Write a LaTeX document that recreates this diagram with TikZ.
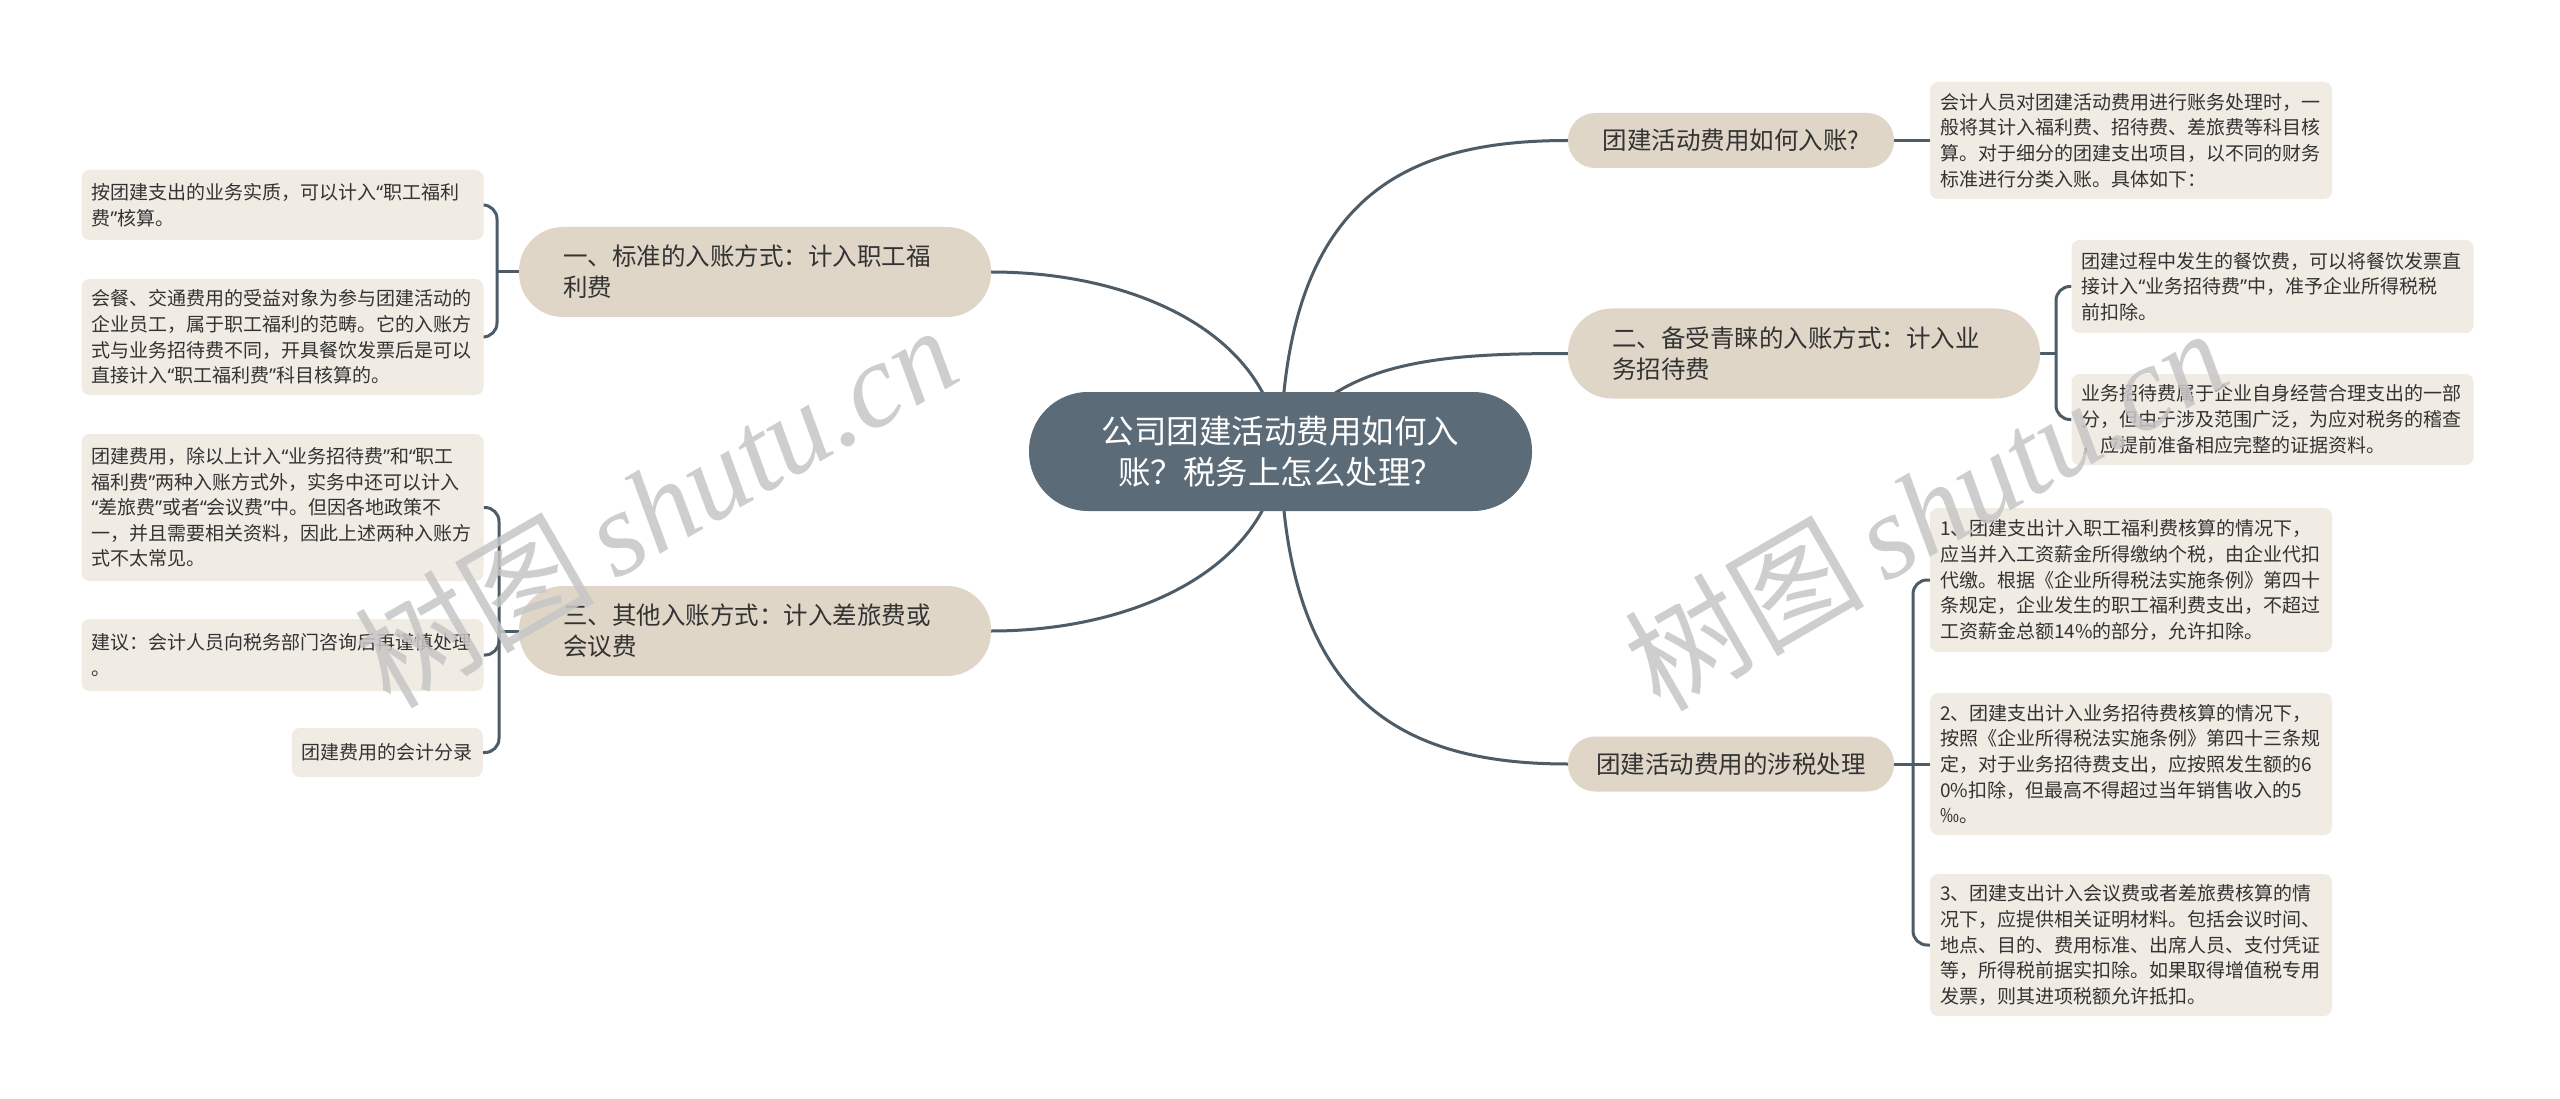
\documentclass[tikz,border=0pt]{standalone}
\usepackage{fontspec}
\setmainfont{Noto Sans CJK SC}
\newfontfamily\wmlatin{Liberation Serif}
\newfontfamily\qtfont{Noto Sans}
\newcommand\oq{{\qtfont “}}
\newcommand\cq{{\qtfont ”}}
\usetikzlibrary{backgrounds}
\definecolor{cfill}{HTML}{5B6B77}
\definecolor{bfill}{HTML}{E0D6C7}
\definecolor{lfill}{HTML}{F0ECE4}
\definecolor{lcol}{HTML}{4D5C67}
\definecolor{tcol}{HTML}{333333}
\definecolor{wmcol}{HTML}{C6C6C6}
\tikzset{
  central/.style={fill=cfill, rounded corners=59pt, minimum width=503pt, minimum height=119pt,
    text=white, font=\fontsize{32.5}{41}\selectfont, align=center, inner sep=0pt},
  branchbig/.style={fill=bfill, rounded corners=44pt, minimum width=472pt, minimum height=90pt,
    text=tcol, font=\fontsize{24.5}{31}\selectfont, align=left, text width=384pt, inner sep=0pt},
  branchsmall/.style={fill=bfill, rounded corners=27pt, minimum width=326pt, minimum height=55pt,
    text=tcol, font=\fontsize{24.5}{31}\selectfont, align=center, inner sep=0pt},
  leaf/.style={fill=lfill, rounded corners=8pt, text width=382pt, inner xsep=10pt, inner ysep=0pt,
    text=tcol, font=\fontsize{19}{25.6}\selectfont, align=left},
  leafsmall/.style={fill=lfill, rounded corners=8pt, inner xsep=10pt, inner ysep=0pt,
    text=tcol, font=\fontsize{19}{25.6}\selectfont, align=left},
  conn/.style={draw=lcol, line width=3pt},
  bracket/.style={draw=lcol, line width=3pt, rounded corners=14pt},
  wm/.style={text=wmcol, opacity=0.85, rotate=30, inner sep=0pt}
}
\begin{document}
\begin{tikzpicture}[x=1pt,y=-1pt]
\useasboundingbox (0,0) rectangle (2560,1099);

% central
\node[central] (C) at (1280.5,451.5) {公司团建活动费用如何入\\账？税务上怎么处理？};

% branches
\node[branchbig] (L1) at (755,272) {一、标准的入账方式：计入职工福\\利费};
\node[branchbig] (L3) at (755,631) {三、其他入账方式：计入差旅费或\\会议费};
\node[branchsmall] (R1) at (1731,140.5) {团建活动费用如何入账?};
\node[branchbig] (R2) at (1804,353.5) {二、备受青睐的入账方式：计入业\\务招待费};
\node[branchsmall] (R4) at (1731,764) {团建活动费用的涉税处理};

% leaves left
\node[leaf, minimum height=70pt] (LA1) at (282.5,205) {按团建支出的业务实质，可以计入\oq 职工福利\\费\cq 核算。};
\node[leaf, minimum height=116pt] (LA2) at (282.5,337) {会餐、交通费用的受益对象为参与团建活动的\\企业员工，属于职工福利的范畴。它的入账方\\式与业务招待费不同，开具餐饮发票后是可以\\直接计入\oq 职工福利费\cq 科目核算的。};
\node[leaf, minimum height=147pt] (LB1) at (282.5,507.5) {团建费用，除以上计入\oq 业务招待费\cq 和\oq 职工\\福利费\cq 两种入账方式外，实务中还可以计入\\\oq 差旅费\cq 或者\oq 会议费\cq 中。但因各地政策不\\一，并且需要相关资料，因此上述两种入账方\\式不太常见。};
\node[leaf, minimum height=72pt] (LB2) at (282.5,655) {建议：会计人员向税务部门咨询后再谨慎处理\\。};
\node[leafsmall, minimum height=49pt, anchor=east] (LB3) at (483,752.5) {团建费用的会计分录};

% leaves right
\node[leaf, minimum height=117pt] (RA1) at (2131,140.5) {会计人员对团建活动费用进行账务处理时，一\\般将其计入福利费、招待费、差旅费等科目核\\算。对于细分的团建支出项目，以不同的财务\\标准进行分类入账。具体如下：};
\node[leaf, minimum height=93pt] (RB1) at (2272.5,286.5) {团建过程中发生的餐饮费，可以将餐饮发票直\\接计入\oq 业务招待费\cq 中，准予企业所得税税\\前扣除。};
\node[leaf, minimum height=91pt] (RB2) at (2272.5,419.5) {业务招待费属于企业自身经营合理支出的一部\\分，但由于涉及范围广泛，为应对税务的稽查\\，应提前准备相应完整的证据资料。};
\node[leaf, minimum height=144pt] (RD1) at (2131,580) {1、团建支出计入职工福利费核算的情况下，\\应当并入工资薪金所得缴纳个税，由企业代扣\\代缴。根据《企业所得税法实施条例》第四十\\条规定，企业发生的职工福利费支出，不超过\\工资薪金总额14\%的部分，允许扣除。};
\node[leaf, minimum height=142pt] (RD2) at (2131,764) {2、团建支出计入业务招待费核算的情况下，\\按照《企业所得税法实施条例》第四十三条规\\定，对于业务招待费支出，应按照发生额的6\\0\%扣除，但最高不得超过当年销售收入的5\\‰。};
\node[leaf, minimum height=142pt] (RD3) at (2131,945) {3、团建支出计入会议费或者差旅费核算的情\\况下，应提供相关证明材料。包括会议时间、\\地点、目的、费用标准、出席人员、支付凭证\\等，所得税前据实扣除。如果取得增值税专用\\发票，则其进项税额允许抵扣。};

% junction coordinates
\coordinate (jL1) at (497,272);
\coordinate (jL3) at (499,631);
\coordinate (jR2) at (2056,353.5);
\coordinate (jR4) at (1913,764);

\begin{scope}[on background layer]
  \fill[white] (0,0) rectangle (2560,1099);
  % main curves
  \draw[conn] (C.center) .. controls (1268,330) and (1130,272) .. (L1.east);
  \draw[conn] (C.center) .. controls (1268,572) and (1130,631) .. (L3.east);
  \draw[conn] (C.center) .. controls (1285,200) and (1400,140.5) .. (R1.west);
  \draw[conn] (C.center) .. controls (1330,360) and (1440,353.5) .. (R2.west);
  \draw[conn] (C.center) .. controls (1285,700) and (1400,764) .. (R4.west);
  % leaf brackets
  \draw[conn] (L1.west) -- (jL1);
  \draw[bracket] (LA1.east) -| (jL1) |- (LA2.east);
  \draw[conn] (L3.west) -- (jL3);
  \draw[bracket] (LB1.east) -| (jL3) |- (LB3.east);
  \draw[bracket] (jL3) |- (LB2.east);
  \draw[conn] (R1.east) -- (RA1.west);
  \draw[conn] (R2.east) -- (jR2);
  \draw[bracket] (RB1.west) -| (jR2) |- (RB2.west);
  \draw[conn] (R4.east) -- (RD2.west);
  \draw[bracket] (RD1.west) -| (jR4) |- (RD3.west);
\end{scope}

% watermarks
\node[wm] (W1) at (655,505) {\fontsize{120}{120}\selectfont 树图\,{\wmlatin\itshape shutu.cn}};
\node[wm] (W2) at (1925,508) {\fontsize{120}{120}\selectfont 树图\,{\wmlatin\itshape shutu.cn}};
\end{tikzpicture}
\end{document}
